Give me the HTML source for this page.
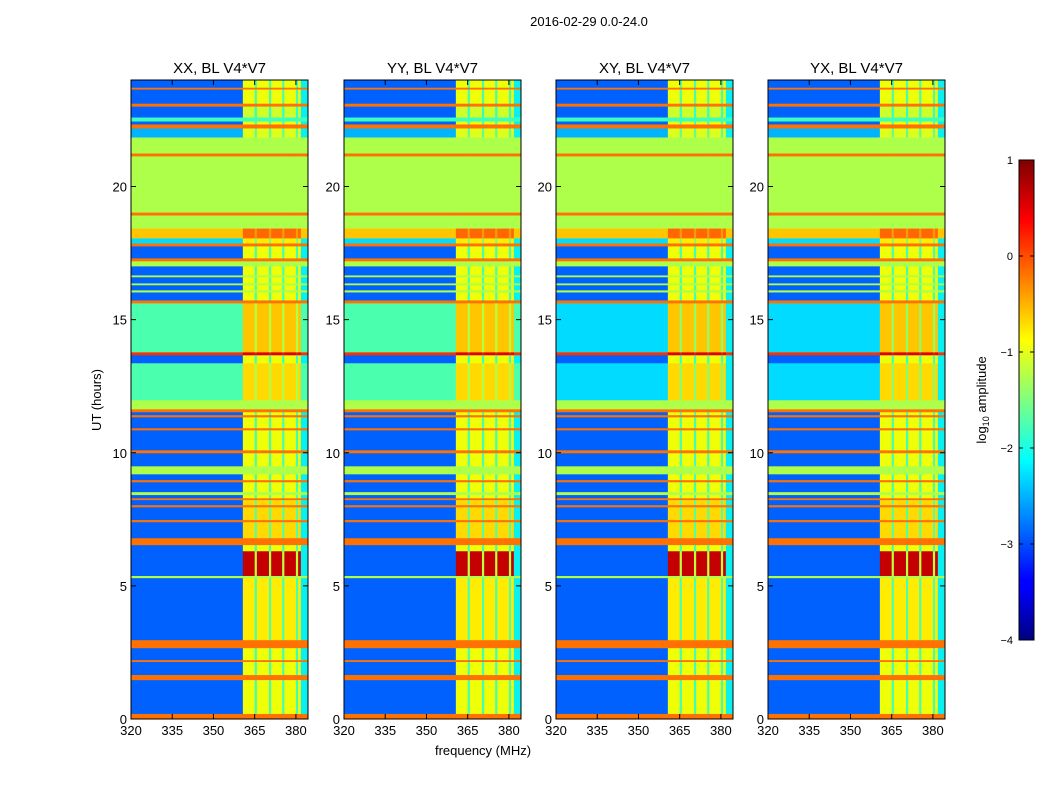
<!DOCTYPE html>
<html><head><meta charset="utf-8"><style>
body{margin:0;background:#fff;}
svg{display:block;font-family:"Liberation Sans",sans-serif;}
</style></head><body>
<svg id="chart" width="1050" height="800" viewBox="0 0 1050 800">
<defs><linearGradient id="jet" x1="0" y1="1" x2="0" y2="0">
<stop offset="0" stop-color="#00007f"/><stop offset="0.11" stop-color="#0000ff"/><stop offset="0.125" stop-color="#0000ff"/>
<stop offset="0.34" stop-color="#00dcff"/><stop offset="0.375" stop-color="#00ffff"/>
<stop offset="0.5" stop-color="#7fff7f"/><stop offset="0.625" stop-color="#ffff00"/>
<stop offset="0.66" stop-color="#ffdc00"/><stop offset="0.875" stop-color="#ff0000"/><stop offset="1" stop-color="#7f0000"/>
</linearGradient></defs>
<text x="589" y="26" font-size="13" text-anchor="middle">2016-02-29 0.0-24.0</text>
<text x="483" y="755" font-size="13" text-anchor="middle">frequency (MHz)</text>
<text transform="translate(101,400) rotate(-90)" font-size="13" text-anchor="middle">UT (hours)</text>
<g id="panels"></g>
<rect x="1019" y="160" width="15" height="480" fill="url(#jet)" stroke="#000" stroke-width="1"/>
<g id="cbticks"></g>
<text transform="translate(986,400) rotate(-90)" font-size="13" text-anchor="middle">log<tspan font-size="9" dy="3">10</tspan><tspan dy="-3"> amplitude</tspan></text>
</svg>
<script>
const panelTitles = ["XX, BL V4*V7","YY, BL V4*V7","XY, BL V4*V7","YX, BL V4*V7"];
const panelCross = [false,false,true,true];
const xTicks = [320,335,350,365,380];
const yTicks = [0,5,10,15,20];
const cbTicks = [1,0,-1,-2,-3,-4];
// time segments (top hour of each segment, segment ends at next top)
const segTop = [24,23.71,23.64,23.11,23.0,22.59,22.44,22.33,22.18,21.84,21.24,21.13,19.02,18.91,18.42,18.05,17.86,17.75,17.30,17.19,17.0,16.66,16.59,16.36,16.29,16.10,16.02,15.72,15.61,13.77,13.66,13.36,11.97,11.63,11.52,11.41,11.33,10.92,10.84,10.09,9.98,9.49,9.19,8.97,8.89,8.52,8.41,8.29,8.22,8.03,7.95,7.47,7.39,6.79,6.53,6.30,5.37,5.29,2.96,2.66,2.21,2.14,1.65,1.46,0.19];
const segBg = [-2.9,-0.05,-2.9,-0.05,-2.9,-1.9,-2.9,-0.05,-2.5,-1.2,-0.05,-1.2,-0.05,-1.2,-0.5,-2.3,-0.05,-2.9,-0.05,-1.2,-2.9,-1.2,-2.9,-1.2,-2.9,-1.2,-2.9,-0.05,-1.8,0.3,-2.9,-1.8,-1.2,-0.05,-2.9,-0.05,-2.9,-0.05,-2.9,-0.05,-2.9,-1.2,-2.9,-0.05,-2.9,-1.2,-2.9,-0.05,-2.9,-0.05,-2.9,-0.05,-2.9,-0.05,-2.9,-2.9,-1.2,-2.9,-0.05,-2.9,-0.05,-2.9,-0.05,-2.9,-0.05];
const segBgCross = [-2.9,-0.05,-2.9,-0.05,-2.9,-1.9,-2.9,-0.05,-2.5,-1.2,-0.05,-1.2,-0.05,-1.2,-0.5,-2.3,-0.05,-2.9,-0.05,-1.2,-2.9,-1.2,-2.9,-1.2,-2.9,-1.2,-2.9,-0.05,-2.3,0.3,-2.9,-2.3,-1.2,-0.05,-2.9,-0.05,-2.9,-0.05,-2.9,-0.05,-2.9,-1.2,-2.9,-0.05,-2.9,-1.2,-2.9,-0.05,-2.9,-0.05,-2.9,-0.05,-2.9,-0.05,-2.9,-2.9,-1.2,-2.9,-0.05,-2.9,-0.05,-2.9,-0.05,-2.9,-0.05];
const segBand = [-0.8,-0.05,-0.8,-0.05,-1.0,-1.9,-0.8,-0.05,-0.9,-1.2,-0.05,-1.2,-0.05,-1.2,0.0,-0.7,-0.05,-0.8,-0.05,-1.2,-0.8,-1.2,-0.8,-1.2,-0.8,-1.2,-0.8,-0.05,-0.5,0.6,-0.8,-0.6,-1.2,-0.05,-0.8,-0.05,-0.8,-0.05,-0.8,-0.05,-0.8,-1.2,-0.8,-0.05,-0.8,-1.2,-0.8,-0.05,-0.6,-0.05,-0.6,-0.05,-0.6,-0.05,-0.8,0.7,-1.2,-0.7,-0.05,-0.8,-0.05,-0.8,-0.05,-0.8,-0.05];
// frequency segments: start MHz and type (0 background, 1 RFI band, 2 gap, 3 edge)
const colStart = [320,360.7,365,365.8,370.2,371,375,375.8,380,380.8,381.8];
const colType  = [0,1,2,1,2,1,2,1,2,1,3];
const fMin=320,fMax=384.4,tMin=0,tMax=24,vMin=-4,vMax=1;
const panelX=[131,344,556,768], pW=177, pTop=80, pBot=719;
const NS="http://www.w3.org/2000/svg";
function interp(t,pts){for(let i=1;i<pts.length;i++){if(t<=pts[i][0]){const a=pts[i-1],b=pts[i];return a[1]+(b[1]-a[1])*(t-a[0])/(b[0]-a[0]);}}return pts[pts.length-1][1];}
const RP=[[0,0],[0.35,0],[0.66,1],[0.89,1],[1,0.5]];
const GP=[[0,0],[0.125,0],[0.375,1],[0.64,1],[0.91,0],[1,0]];
const BP=[[0,0.5],[0.11,1],[0.34,1],[0.65,0],[1,0]];
function jet(v){let t=(v-vMin)/(vMax-vMin);t=Math.max(0,Math.min(1,t));
 return `rgb(${Math.round(255*interp(t,RP))},${Math.round(255*interp(t,GP))},${Math.round(255*interp(t,BP))})`;}
function mk(tag,attrs,parent){const e=document.createElementNS(NS,tag);for(const k in attrs)e.setAttribute(k,attrs[k]);parent.appendChild(e);return e;}
const root=document.getElementById('panels');
panelTitles.forEach((title,p)=>{
 const x0=panelX[p];
 const sx=f=>x0+(f-fMin)/(fMax-fMin)*pW;
 const sy=h=>pBot-(h-tMin)/(tMax-tMin)*(pBot-pTop);
 const g=mk('g',{},root);
 
 
 const bgArr=panelCross[p]?segBgCross:segBg;
 segTop.forEach((top,i)=>{
  const bot=i+1<segTop.length?segTop[i+1]:tMin;
  const y1=sy(top),y2=sy(bot);
  colStart.forEach((cs,j)=>{
   const ce=j+1<colStart.length?colStart[j+1]:fMax;
   const ty=colType[j];
   const v=ty===0?bgArr[i]:ty===1?segBand[i]:ty===2?(bgArr[i]+segBand[i])/2:Math.max(bgArr[i],-2.2);
   const r=mk('rect',{x:sx(cs).toFixed(2),y:y1.toFixed(2),width:(sx(ce)-sx(cs)+0.3).toFixed(2),height:(y2-y1+0.3).toFixed(2),fill:jet(v)},g);
   
   
  });
 });
 const fr=mk('rect',{x:x0,y:pTop,width:pW,height:pBot-pTop,fill:'none',stroke:'#000','stroke-width':1},g);
 
 
 const tt=mk('text',{x:x0+pW/2,y:73,'font-size':15,'text-anchor':'middle'},g);tt.textContent=title;
 
 
 xTicks.forEach(f=>{const x=sx(f);
  mk('line',{x1:x,y1:pBot,x2:x,y2:pBot-5,stroke:'#000'},g);
  mk('line',{x1:x,y1:pTop,x2:x,y2:pTop+5,stroke:'#000'},g);
  const t=mk('text',{x:x,y:pBot+16,'font-size':13,'text-anchor':'middle'},g);t.textContent=f;
  
  });
 yTicks.forEach(h=>{const y=sy(h);
  mk('line',{x1:x0,y1:y,x2:x0+5,y2:y,stroke:'#000'},g);
  mk('line',{x1:x0+pW,y1:y,x2:x0+pW-5,y2:y,stroke:'#000'},g);
  const t=mk('text',{x:x0-4,y:y+5,'font-size':13,'text-anchor':'end'},g);t.textContent=h;
  
  });
});
const cb=document.getElementById('cbticks');
cbTicks.forEach(v=>{const y=160+(vMax-v)/(vMax-vMin)*480;
 mk('line',{x1:1019,y1:y,x2:1023,y2:y,stroke:'#000'},cb);
 mk('line',{x1:1034,y1:y,x2:1030,y2:y,stroke:'#000'},cb);
 const t=mk('text',{x:1013,y:y+4,'font-size':11,'text-anchor':'end'},cb);
 t.textContent=v<0?'\u2212'+(-v):v;
 
 });
</script>
</body></html>
